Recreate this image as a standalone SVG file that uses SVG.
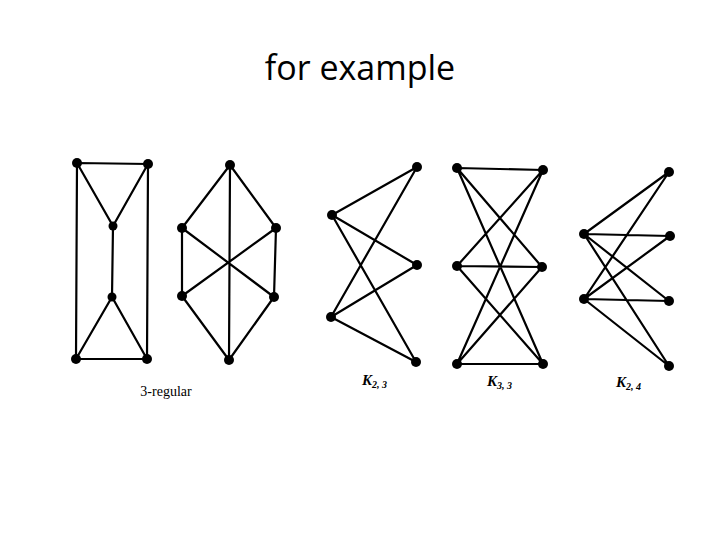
<svg xmlns="http://www.w3.org/2000/svg" width="720" height="540" viewBox="0 0 720 540">
<style>
.e{stroke:#000;stroke-width:2.2;fill:none}
.n{fill:#000}
.lab{font-family:"Liberation Serif",serif;fill:#000}
</style>
<rect width="720" height="540" fill="#fff"/>
<text x="360" y="80" text-anchor="middle" font-family="Open Sans, Liberation Sans, sans-serif" font-size="34" fill="#000">for example</text>
<g id="connectors" class="e">
<path d="M77,163L148,164L147,359L76,359Z M77,163L113,226L148,164 M113,226L112,297 M76,359L112,297L147,359"/>
<path d="M230,165L182,228 M230,165L276,228 M230,165L229,360 M182,228L182,296 M276,228L274,297 M182,228L274,297 M276,228L182,296 M182,296L229,360 M274,297L229,360"/>
<path d="M332,215L417,167 M332,215L417,265 M332,215L416,362 M331,317L417,167 M331,317L417,265 M331,317L416,362"/>
<path d="M457,168L543,170 M457,168L542,267 M457,168L543,364 M457,266L543,170 M457,266L542,267 M457,266L543,364 M457,364L543,170 M457,364L542,267 M457,364L543,364"/>
<path d="M584,234L669,172 M584,234L670,236 M584,234L669,301 M584,234L669,366 M584,299L669,172 M584,299L670,236 M584,299L669,301 M584,299L669,366"/>
</g>
<g id="g1" class="n"><circle cx="77" cy="163" r="5"/><circle cx="148" cy="164" r="5"/><circle cx="113" cy="226" r="4.5"/><circle cx="112" cy="297" r="4.5"/><circle cx="76" cy="359" r="5"/><circle cx="147" cy="359" r="5"/></g>
<g id="g2" class="n"><circle cx="230" cy="165" r="5"/><circle cx="182" cy="228" r="5"/><circle cx="276" cy="228" r="5"/><circle cx="182" cy="296" r="5"/><circle cx="274" cy="297" r="5"/><circle cx="229" cy="360" r="5"/></g>
<g id="k23" class="n"><circle cx="332" cy="215" r="5"/><circle cx="331" cy="317" r="5"/><circle cx="417" cy="167" r="5"/><circle cx="417" cy="265" r="5"/><circle cx="416" cy="362" r="5"/></g>
<g id="k33" class="n"><circle cx="457" cy="168" r="5"/><circle cx="457" cy="266" r="5"/><circle cx="457" cy="364" r="5"/><circle cx="543" cy="170" r="5"/><circle cx="542" cy="267" r="5"/><circle cx="543" cy="364" r="5"/></g>
<g id="k24" class="n"><circle cx="584" cy="234" r="5"/><circle cx="584" cy="299" r="5"/><circle cx="669" cy="172" r="5"/><circle cx="670" cy="236" r="5"/><circle cx="669" cy="301" r="5"/><circle cx="669" cy="366" r="5"/></g>
<g id="labels" class="lab">
<text x="166" y="396" text-anchor="middle" font-size="14">3-regular</text>
<text x="362" y="385" font-size="15" font-style="italic" font-weight="bold">K<tspan font-size="10" dy="3">2, 3</tspan></text>
<text x="487" y="386" font-size="15" font-style="italic" font-weight="bold">K<tspan font-size="10" dy="3">3, 3</tspan></text>
<text x="616" y="387" font-size="15" font-style="italic" font-weight="bold">K<tspan font-size="10" dy="3">2, 4</tspan></text>
</g>
</svg>
